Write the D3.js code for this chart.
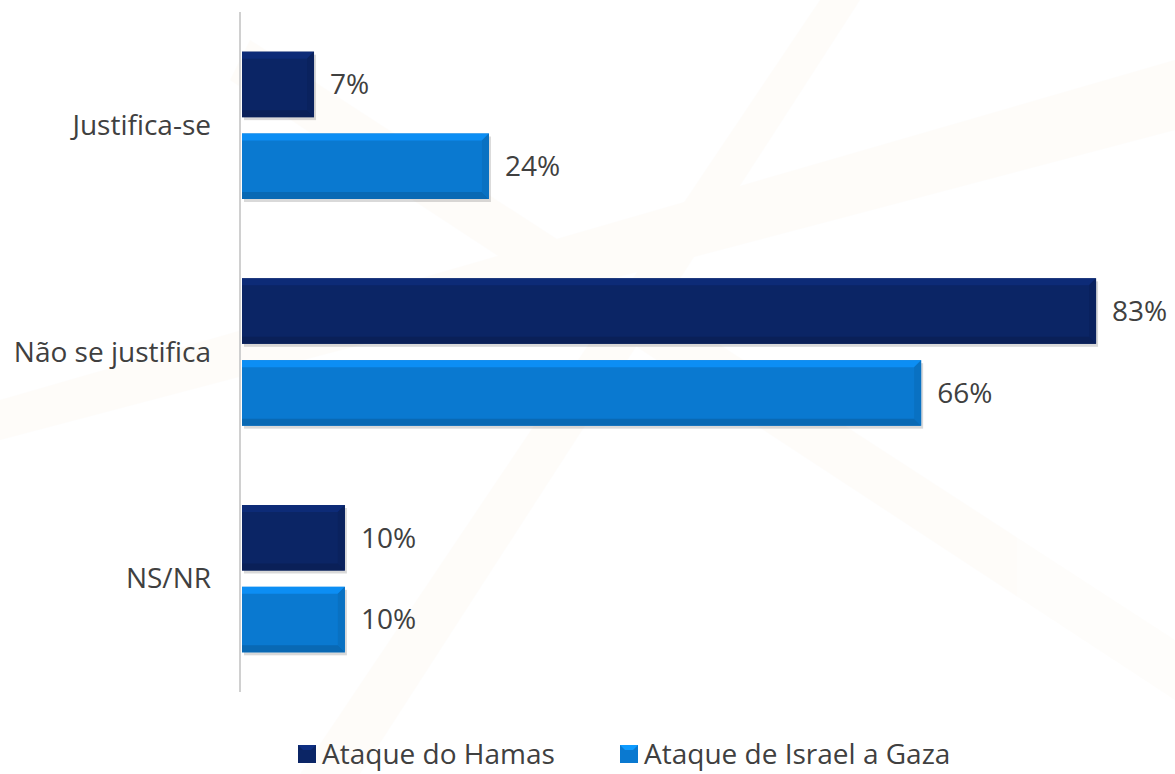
<!DOCTYPE html>
<html>
<head>
<meta charset="utf-8">
<script src="https://cdn.jsdelivr.net/npm/d3@7"></script>
<style>
  body { margin: 0; background: #fff; }
  text { font-family: "Open Sans", Lato, sans-serif; fill: #404040; }
</style>
</head>
<body>
<svg id="chart"></svg>
<script>
// chart data
const categories = ["Justifica-se", "Não se justifica", "NS/NR"];
const seriesNames = ["Ataque do Hamas", "Ataque de Israel a Gaza"];
const hamasValues = [7, 83, 10];
const israelValues = [24, 66, 10];
const seriesColors = ["#0b2565", "#0a79d0"];

const w = 1175, h = 774;
const svg = d3.select("#chart").attr("width", w).attr("height", h);

// faint watermark in the background
const wm = svg.append("g").attr("opacity", 0.025).attr("fill", "#e8a040");
wm.append("path").attr("d", "M0,400 L1175,60 L1175,130 L0,440 Z");
wm.append("path").attr("d", "M300,774 L820,0 L860,0 L360,774 Z");
wm.append("path").attr("d", "M250,40 L1175,640 L1175,700 L230,80 Z");

const x = d3.scaleLinear().domain([0, 100]).range([242, 242 + 1029]);
const y = d3.scaleBand().domain(categories).range([12, 692])
    .paddingInner(0.35).paddingOuter(0.175);
const ySub = d3.scaleBand().domain(seriesNames).range([0, y.bandwidth()])
    .paddingInner(0.2);

const fs = 28;

// rows of data
const rows = [];
categories.forEach((c, i) => {
    rows.push({cat: c, s: 0, v: hamasValues[i]});
    rows.push({cat: c, s: 1, v: israelValues[i]});
});

// axis line
svg.append("line")
    .attr("x1", 240).attr("x2", 240)
    .attr("y1", 12).attr("y2", 692)
    .attr("stroke", "#d0d0d0").attr("stroke-width", 2);

// category labels
svg.selectAll("text.cat")
    .data(categories)
    .enter()
    .append("text")
    .attr("class", "cat")
    .attr("x", 211)
    .attr("y", d => y(d) + y.bandwidth() / 2)
    .attr("dy", "0.35em")
    .attr("text-anchor", "end")
    .attr("font-size", fs)
    .text(d => d);

// bars with a bevel look
const bar = svg.selectAll("g.bar")
    .data(rows)
    .enter()
    .append("g")
    .attr("class", "bar");

bar.each(function(d) {
    const g = d3.select(this);
    const x0 = x(0), x1 = x(d.v);
    const y0 = y(d.cat) + ySub(seriesNames[d.s]);
    const bh = ySub.bandwidth();
    const b = 7;
    const col = d3.color(seriesColors[d.s]);
    // shadow
    g.append("rect")
        .attr("x", x0 + 2).attr("y", y0 + 3)
        .attr("width", x1 - x0).attr("height", bh)
        .attr("fill", "#000").attr("opacity", 0.15);
    g.append("rect")
        .attr("x", x0).attr("y", y0)
        .attr("width", x1 - x0).attr("height", bh)
        .attr("fill", col);
    // top bevel
    g.append("path")
        .attr("d", `M${x0},${y0} L${x1},${y0} L${x1 - b},${y0 + b} L${x0},${y0 + b} Z`)
        .attr("fill", col.brighter(0.45));
    // bottom bevel
    g.append("path")
        .attr("d", `M${x0},${y0 + bh} L${x1},${y0 + bh} L${x1 - b},${y0 + bh - b} L${x0},${y0 + bh - b} Z`)
        .attr("fill", col.darker(0.4));
    // right bevel
    g.append("path")
        .attr("d", `M${x1},${y0} L${x1},${y0 + bh} L${x1 - b},${y0 + bh - b} L${x1 - b},${y0 + b} Z`)
        .attr("fill", col.darker(0.2));
    // value label
    g.append("text")
        .attr("x", x1 + 16)
        .attr("y", y0 + bh / 2)
        .attr("dy", "0.35em")
        .attr("font-size", fs)
        .text(d.v + "%");
});

// legend
const legendX = [298, 620];
const leg = svg.selectAll("g.legend")
    .data(seriesNames)
    .enter()
    .append("g")
    .attr("class", "legend")
    .attr("transform", (d, i) => `translate(${legendX[i]},745)`);
leg.append("rect")
    .attr("width", 18).attr("height", 18)
    .attr("fill", (d, i) => seriesColors[i]);
leg.append("path")
    .attr("d", "M0,0 L18,0 L13,5 L5,5 Z")
    .attr("fill", (d, i) => d3.color(seriesColors[i]).brighter(0.7));
leg.append("text")
    .attr("x", 24).attr("y", 9)
    .attr("dy", "0.35em")
    .attr("font-size", fs)
    .text(d => d);
</script>
</body>
</html>
